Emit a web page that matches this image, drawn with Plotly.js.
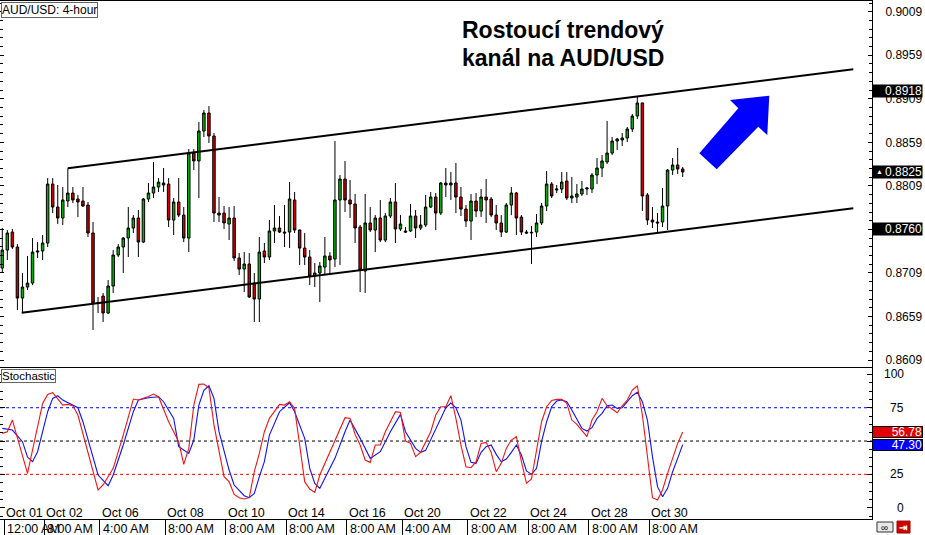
<!DOCTYPE html>
<html><head><meta charset="utf-8">
<script src="https://cdn.plot.ly/plotly-3.0.1.min.js"></script>
<style>html,body{margin:0;padding:0;background:#fff;}#chart{width:925px;height:535px;}</style>
</head><body><div id="chart"></div>
<script>
// ---- price candles (AUD/USD 4-hour), index 0 = Oct 01 12:00 AM ----
const openP  = [0.87147,0.87353,0.87560,0.87388,0.86802,0.86928,0.86974,0.87330,0.87342,0.87434,0.88111,0.87847,0.87721,0.87916,0.88008,0.87939,0.87916,0.87870,0.87549,0.86748,0.86825,0.86630,0.86940,0.87296,0.87388,0.87491,0.87606,0.87721,0.87445,0.87939,0.88008,0.88077,0.88123,0.88111,0.87698,0.87905,0.87755,0.87491,0.88467,0.88376,0.88720,0.88927,0.88663,0.87778,0.87778,0.87652,0.87721,0.87262,0.87135,0.87193,0.86974,0.86791,0.87342,0.87273,0.87572,0.87606,0.87560,0.87560,0.87928,0.87583,0.87376,0.87273,0.87055,0.87089,0.87158,0.87285,0.87250,0.87928,0.88169,0.87928,0.87882,0.87618,0.87112,0.87664,0.87583,0.87721,0.87468,0.87744,0.87905,0.87595,0.87572,0.87572,0.87744,0.87606,0.87641,0.87847,0.87962,0.87778,0.88123,0.88100,0.88123,0.87962,0.87824,0.87686,0.87916,0.87801,0.87962,0.87939,0.87755,0.87664,0.87560,0.87870,0.88008,0.87732,0.87560,0.87549,0.87560,0.87664,0.87859,0.88111,0.88042,0.88054,0.88146,0.87951,0.87962,0.87997,0.88054,0.88054,0.88215,0.88295,0.88364,0.88467,0.88605,0.88617,0.88640,0.88743,0.88892,0.89042,0.87985,0.87698,0.87675,0.87675,0.87859,0.88272,0.88330,0.88284];
const highP  = [0.87606,0.87583,0.87595,0.87422,0.87089,0.87285,0.87491,0.87445,0.87526,0.88180,0.88180,0.88100,0.88077,0.88292,0.88077,0.87985,0.88077,0.87905,0.87675,0.86814,0.86860,0.87009,0.87353,0.87422,0.87503,0.87847,0.87755,0.87813,0.87951,0.88123,0.88364,0.88180,0.88295,0.88180,0.87951,0.88180,0.87847,0.88513,0.88513,0.88823,0.88961,0.89007,0.88697,0.87962,0.87859,0.87847,0.87859,0.87319,0.87330,0.87319,0.87089,0.87503,0.87434,0.87698,0.87870,0.87744,0.87870,0.88134,0.88020,0.87590,0.87549,0.87353,0.87204,0.87216,0.87503,0.87330,0.88605,0.88215,0.88376,0.88157,0.87997,0.87641,0.87997,0.87847,0.87755,0.87928,0.87778,0.87951,0.88123,0.87755,0.87618,0.87882,0.87813,0.87755,0.87985,0.88020,0.88008,0.88134,0.88295,0.88250,0.88353,0.88077,0.87870,0.87997,0.88008,0.88054,0.88169,0.87962,0.87870,0.87755,0.87893,0.88077,0.88020,0.87755,0.87583,0.87629,0.87767,0.87893,0.88261,0.88134,0.88100,0.88249,0.88249,0.88192,0.88111,0.88146,0.88077,0.88238,0.88410,0.88444,0.88835,0.88651,0.88640,0.88697,0.88766,0.88915,0.89122,0.89045,0.88008,0.87847,0.87778,0.88065,0.88284,0.88410,0.88525,0.88307];
const lowP   = [0.87089,0.87239,0.87365,0.86664,0.86635,0.86894,0.86951,0.87262,0.87239,0.87388,0.87778,0.87652,0.87641,0.87847,0.87893,0.87732,0.87847,0.87503,0.86435,0.86630,0.86527,0.86618,0.86860,0.87273,0.87089,0.87273,0.87549,0.87273,0.87434,0.87905,0.87951,0.88020,0.88020,0.87618,0.87526,0.87732,0.87445,0.87330,0.88272,0.87951,0.88651,0.88582,0.87675,0.87675,0.87595,0.87468,0.87227,0.87066,0.86871,0.86802,0.86527,0.86527,0.87204,0.87239,0.87434,0.87549,0.87388,0.87376,0.87549,0.87181,0.87181,0.86951,0.86928,0.86756,0.87066,0.87066,0.87158,0.87181,0.87790,0.87721,0.87434,0.86871,0.86860,0.87560,0.87330,0.87445,0.87445,0.87721,0.87434,0.87572,0.87549,0.87560,0.87491,0.87583,0.87618,0.87836,0.87583,0.87755,0.87962,0.87928,0.87778,0.87744,0.87618,0.87468,0.87732,0.87732,0.87664,0.87732,0.87583,0.87503,0.87549,0.87755,0.87526,0.87526,0.87537,0.87193,0.87503,0.87641,0.87801,0.87951,0.88008,0.88008,0.87928,0.87893,0.87893,0.87974,0.87985,0.88008,0.88111,0.88192,0.88341,0.88444,0.88502,0.88548,0.88594,0.88709,0.88858,0.87801,0.87641,0.87606,0.87549,0.87618,0.87583,0.88215,0.88226,0.88192];
const closeP = [0.87353,0.87549,0.87388,0.86802,0.86928,0.86974,0.87330,0.87342,0.87434,0.88111,0.87847,0.87721,0.87928,0.88008,0.87928,0.87905,0.87859,0.87549,0.86745,0.86742,0.86630,0.86940,0.87296,0.87388,0.87491,0.87606,0.87721,0.87445,0.87939,0.88008,0.88077,0.88134,0.88100,0.87698,0.87905,0.87755,0.87491,0.88467,0.88376,0.88720,0.88927,0.88663,0.87778,0.87755,0.87664,0.87721,0.87262,0.87135,0.87193,0.86814,0.86791,0.87330,0.87273,0.87572,0.87606,0.87560,0.87549,0.87939,0.87583,0.87376,0.87273,0.87055,0.87089,0.87170,0.87285,0.87239,0.87928,0.88169,0.87928,0.87882,0.87606,0.87124,0.87664,0.87583,0.87721,0.87468,0.87744,0.87905,0.87595,0.87652,0.87560,0.87744,0.87606,0.87641,0.87847,0.87962,0.87778,0.88123,0.88100,0.88123,0.87962,0.87824,0.87686,0.87916,0.87801,0.87962,0.87928,0.87755,0.87664,0.87560,0.87870,0.88008,0.87721,0.87560,0.87549,0.87556,0.87664,0.87859,0.88111,0.87974,0.88054,0.88134,0.87951,0.87974,0.87997,0.88054,0.88065,0.88215,0.88295,0.88376,0.88467,0.88605,0.88628,0.88640,0.88743,0.88892,0.89042,0.87974,0.87698,0.87675,0.87664,0.87859,0.88272,0.88330,0.88284,0.88250];
const candleIdx = openP.map((_, i) => i);

// ---- trend channel (candle index, price) ----
const upperX = [13, 168.85], upperY = [0.88292, 0.89429];
const lowerX = [3.85, 168.85], lowerY = [0.86633, 0.87832];

// ---- stochastic (%K red, %D blue) ----
const kIdx = [0,1,2,5,8,9,10,12,13,14,15,17,19,20,22,24,26,27,28,29,30,31,33,35,36,37,38,39,40,41,42,44,45,46,47,48,49,50,51,52,53,55,56,57,58,59,60,61,62,63,65,66,67,68,69,70,71,72,73,74,75,76,78,79,80,81,82,83,85,86,87,88,89,90,91,92,93,94,95,96,97,98,99,100,101,102,103,104,105,106,107,108,109,110,111,112,113,114,115,116,117,118,119,120,121,122,123,124,125,126,127,128,129,130,131,132,133,134,135];
const kVal = [55.75,57,65.75,25.75,78.25,85,86.25,77,77.5,76.5,69.5,42,13.25,17,29.5,54.5,81.5,80.75,82,83.5,85.25,83.25,64.5,49.5,32.5,44.5,77,92.5,92.75,90,62,23.25,19.5,10,7.5,6.5,7.5,27,40.75,57,67,77.5,77,79.5,74.5,45,19.5,14,11.5,24.5,42,50,60,67.5,67,55,47,35.75,34,47,47,57,72,71.5,50,48.25,38.25,41.5,57,69.5,75.75,75.75,84,67,47,30.75,30,34.5,48.25,49,41.5,27,33.25,44.5,50.75,53.25,34.5,18.25,21.5,42,64.5,75.75,80.5,81.25,81.25,78.25,65.75,62.5,58.25,53.25,65.75,72,82,76.5,74,71.25,76.5,80.75,88.25,91.5,69.5,37,7.5,5.75,13.25,25.75,37,48.25,56.78];
const dIdx = [0,2,4,5,6,7,8,9,10,11,12,14,15,16,18,19,21,22,24,26,27,29,31,32,34,35,37,38,39,40,41,42,43,45,46,47,48,49,50,51,52,53,55,57,58,60,61,62,63,64,66,68,69,71,73,75,77,79,80,82,83,84,85,86,87,88,89,90,91,92,93,94,95,96,97,98,99,100,101,102,103,104,105,106,107,108,109,110,111,112,113,114,115,116,117,118,119,120,121,122,123,124,125,126,127,128,129,130,131,132,133,134,135];
const dVal = [59.5,58.25,49.5,38,34.5,42,57,72,82,84,80.75,77,75,64.5,37,24.5,16.5,24.5,47,72,80.75,82.5,83.25,79.5,67,45.75,40.75,50.75,77,88,91.5,82,57,28.25,17,13.25,9,7.5,10.75,23.25,34.5,54.5,72,78.75,72,52,29.5,18.25,14.5,22,37,57,65.75,52,37,42,57,70,57,44.5,41.5,43,50.75,58.25,67,75,78.5,75,65.75,45.75,34,33.25,41.5,45.75,47,40,34.5,36.5,41.5,47,39.5,27.5,25,29.5,49.5,64.5,75.75,80,80.75,79.5,73.25,65.75,59.5,57.5,60,67,70.75,76.5,77,74.5,75,79.5,84,86.5,79.5,65.75,38.25,15.75,8.25,14.5,27,37,47.3];
const stochLevels = [75, 50, 25];
const stochTicks = [0, 25, 75, 100];

// ---- x axis separators & labels ----
const sepIdx = [0, 8, 19, 32, 44, 56, 68, 79, 92, 104, 116, 128];
const dateLabels = ['Oct 01','Oct 02','Oct 06','Oct 08','Oct 10','Oct 14','Oct 16','Oct 20','Oct 22','Oct 24','Oct 28','Oct 30'];
const timeLabels = ['12:00 AM','8:00 AM','4:00 AM','8:00 AM','8:00 AM','8:00 AM','8:00 AM','4:00 AM','8:00 AM','8:00 AM','8:00 AM','8:00 AM'];

// ---- price level tags ----
const priceTags = [0.8918, 0.8825, 0.8760];
const lastK = 56.78, lastD = 47.30;

// ---- title lines ----
const titleLines = ['Rostoucí trendový', 'kanál na AUD/USD'];

const FONT = 'Liberation Sans, Arial, sans-serif';
const XR = [-0.456, 172.56];
const sepPos = sepIdx.map(i => i + 0.34);

const traces = [
  {type:'candlestick', x:candleIdx, open:openP, high:highP, low:lowP, close:closeP,
   xaxis:'x2', yaxis:'y', whiskerwidth:0, hoverinfo:'skip',
   increasing:{fillcolor:'#00B400', line:{color:'#000', width:1}},
   decreasing:{fillcolor:'#CC0000', line:{color:'#000', width:1}}},
  {type:'scatter', mode:'lines', x:upperX, y:upperY, xaxis:'x2', yaxis:'y', line:{color:'#000', width:2}, hoverinfo:'skip'},
  {type:'scatter', mode:'lines', x:lowerX, y:lowerY, xaxis:'x2', yaxis:'y', line:{color:'#000', width:2}, hoverinfo:'skip'},
  {type:'scatter', mode:'lines', x:dIdx, y:dVal, xaxis:'x', yaxis:'y2', line:{color:'#1010F0', width:1.1}, hoverinfo:'skip'},
  {type:'scatter', mode:'lines', x:kIdx, y:kVal, xaxis:'x', yaxis:'y2', line:{color:'#EE1515', width:1.1}, hoverinfo:'skip'}
];

const shapes = [];
const levelColors = ['#0000FF', '#000000', '#FF0000'];
stochLevels.forEach((lv, k) => shapes.push({type:'line', xref:'paper', x0:0, x1:1, yref:'y2', y0:lv, y1:lv, layer:'below',
  line:{color:levelColors[k], width:1, dash:'3px,3px'}}));
// blue arrow (decoration, paper coords)
shapes.push({type:'path', xref:'paper', yref:'paper', layer:'above', fillcolor:'#0000FF', line:{width:0},
  path:'M0.8020,0.7060 L0.8467,0.7929 L0.8372,0.8089 L0.8822,0.8172 L0.8799,0.7413 L0.8696,0.7573 L0.8219,0.6751 Z'});
// bottom-right icons
shapes.push({type:'rect', xref:'paper', yref:'paper', x0:1.0057, x1:1.0241, y0:-0.0058, y1:-0.0251, fillcolor:'#E8E8E8', line:{color:'#333', width:1}});
shapes.push({type:'rect', xref:'paper', yref:'paper', x0:1.0287, x1:1.0436, y0:-0.0040, y1:-0.0270, fillcolor:'#D00000', line:{color:'#900', width:1}});

const annotations = [];
annotations.push({xref:'paper', yref:'paper', x:0.6456, y:0.944, xanchor:'center', yanchor:'middle', showarrow:false,
  text:'<b>' + titleLines[0] + '</b>', font:{family:FONT, size:23, color:'#000'}});
annotations.push({xref:'paper', yref:'paper', x:0.6456, y:0.890, xanchor:'center', yanchor:'middle', showarrow:false,
  text:'<b>' + titleLines[1] + '</b>', font:{family:FONT, size:23, color:'#000'}});
annotations.push({xref:'paper', yref:'paper', x:0.0012, y:0.999, xanchor:'left', yanchor:'top', showarrow:false,
  text:'AUD/USD: 4-hour', font:{family:FONT, size:12, color:'#000'}, bgcolor:'#fff', bordercolor:'#666', borderwidth:1, borderpad:0});
annotations.push({xref:'paper', yref:'paper', x:0.0012, y:0.2895, xanchor:'left', yanchor:'top', showarrow:false,
  text:'Stochastic', font:{family:FONT, size:11.5, color:'#000'}, bgcolor:'#fff', bordercolor:'#666', borderwidth:1, borderpad:0});
sepPos.forEach((xp, k) => {
  annotations.push({xref:'x', yref:'paper', x:xp, y:0.0116, xanchor:'left', yanchor:'middle', showarrow:false,
    text:dateLabels[k], font:{family:FONT, size:12.5, color:'#000'}});
  annotations.push({xref:'x', yref:'paper', x:xp, y:-0.0193, xanchor:'left', yanchor:'middle', showarrow:false, xshift:1,
    text:timeLabels[k], font:{family:FONT, size:12.5, color:'#000'}});
});
priceTags.forEach(p => annotations.push({xref:'paper', yref:'y', x:1.0, y:p, xanchor:'left', yanchor:'middle', showarrow:false,
  text:p.toFixed(4), width:49, height:12, align:'right', bgcolor:'#000', borderpad:0,
  font:{family:FONT, size:12, color:'#fff'}}));
annotations.push({xref:'paper', yref:'y', x:1.0025, y:priceTags[1], xanchor:'left', yanchor:'middle', showarrow:false,
  text:'▲', font:{family:FONT, size:7, color:'#fff'}});
annotations.push({xref:'paper', yref:'y2', x:1.0, y:lastK, xanchor:'left', yanchor:'middle', showarrow:false,
  text:lastK.toFixed(2), width:49, height:10, align:'right', bgcolor:'#E00000', bordercolor:'#000', borderwidth:1, borderpad:0,
  font:{family:FONT, size:12, color:'#fff'}});
annotations.push({xref:'paper', yref:'y2', x:1.0, y:lastD, xanchor:'left', yanchor:'middle', showarrow:false,
  text:lastD.toFixed(2), width:49, height:10, align:'right', bgcolor:'#0000FF', bordercolor:'#000', borderwidth:1, borderpad:0,
  font:{family:FONT, size:12, color:'#fff'}});
stochTicks.forEach(t => annotations.push({xref:'paper', yref:'y2', x:1.039, y:t, xanchor:'right', yanchor:'middle', showarrow:false,
  text:String(t), font:{family:FONT, size:12, color:'#000'}}));
annotations.push({xref:'paper', yref:'paper', x:1.0149, y:-0.0155, xanchor:'center', yanchor:'middle', showarrow:false,
  text:'∞', font:{family:FONT, size:10, color:'#222'}});
annotations.push({xref:'paper', yref:'paper', x:1.0362, y:-0.0155, xanchor:'center', yanchor:'middle', showarrow:false,
  text:'<b>⇥</b>', font:{family:FONT, size:10, color:'#fff'}});

const layout = {
  width:925, height:535, margin:{l:0, r:53, t:1, b:16, pad:0},
  paper_bgcolor:'#fff', plot_bgcolor:'#fff', showlegend:false,
  font:{family:FONT, size:12, color:'#000'},
  xaxis:{domain:[0,1], range:XR, anchor:'y2', tickmode:'array', tickvals:sepPos, ticks:'outside', ticklen:16,
    tickcolor:'#000', tickwidth:1, showticklabels:false, showline:true, linecolor:'#000', linewidth:1, mirror:true,
    showgrid:false, zeroline:false, rangeslider:{visible:false}},
  xaxis2:{domain:[0,1], range:XR, anchor:'y', showticklabels:false, ticks:'', showline:true, linecolor:'#000',
    linewidth:1, mirror:true, showgrid:false, zeroline:false, rangeslider:{visible:false}},
  yaxis:{domain:[0.2934,1], range:[0.86010,0.90213], side:'right', anchor:'x2', tickmode:'linear', tick0:0.8609, dtick:0.005,
    tickformat:'.4f', ticks:'inside', ticklen:4, tickcolor:'#000', showline:true, linecolor:'#000', linewidth:1, mirror:'ticks',
    showgrid:false, zeroline:false, ticklabelstandoff:10, tickfont:{family:FONT, size:12, color:'#000'},
    minor:{tick0:0.8609, dtick:0.001, ticks:'inside', ticklen:3, tickcolor:'#000', showgrid:false}},
  yaxis2:{domain:[0,0.2915], range:[-8.5,104.8], side:'right', anchor:'x', tickmode:'linear', tick0:0, dtick:25,
    ticks:'inside', ticklen:5, tickcolor:'#000', showticklabels:false, showline:true, linecolor:'#000', linewidth:1,
    mirror:'ticks', showgrid:false, zeroline:false,
    minor:{tick0:0, dtick:6.25, ticks:'inside', ticklen:3, tickcolor:'#000', showgrid:false}},
  shapes:shapes, annotations:annotations
};

Plotly.newPlot('chart', traces, layout, {staticPlot:true, displayModeBar:false});
</script></body></html>
